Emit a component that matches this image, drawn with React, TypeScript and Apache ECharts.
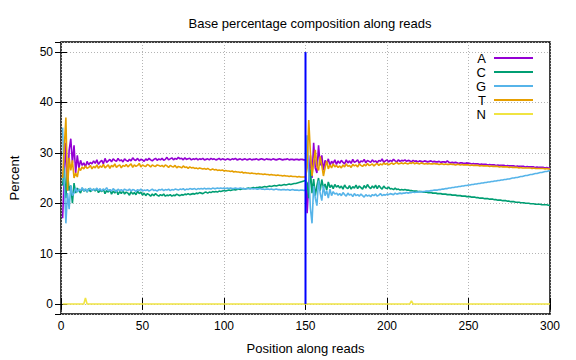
import React, { useEffect, useRef } from "react";
import * as echarts from "echarts";

// ---- Data (read 1 = positions 1..150, read 2 = positions 151..300) ----
const BASES = ["A", "C", "G", "T", "N"];
const COLORS = ["#9400d3", "#009e73", "#56b4e9", "#e69f00", "#f0e442"];
const X_TICKS = [0, 50, 100, 150, 200, 250, 300];
const READ_BOUNDARY = 150;

const A1 = [
  17.0, 25.5, 32.0, 22.5, 30.5, 32.8, 28.0, 31.5, 26.0, 29.5, 27.0, 28.5, 27.5, 28.0, 27.2, 28.3, 27.6, 28.1, 27.8, 28.4,
  27.9, 28.6, 27.7, 28.2, 28.5, 27.8, 28.9, 28.1, 28.4, 28.7, 28.2, 28.8, 28.5, 28.3, 28.9, 28.4, 28.6, 28.2, 28.8, 28.5,
  28.3, 28.7, 28.4, 29.0, 28.6, 28.5, 28.9, 28.4, 28.7, 28.6, 28.3, 28.8, 28.5, 28.9, 28.6, 28.4, 28.7, 28.9, 28.5, 28.8,
  28.6, 28.9, 28.5, 28.7, 29.1, 28.6, 28.8, 29.0, 28.6, 28.9, 28.7, 29.1, 28.8, 28.9, 28.6, 29.0, 28.7, 28.8, 28.9, 28.6,
  28.8, 28.7, 28.9, 28.6, 28.8, 28.7, 28.9, 28.6, 28.7, 28.8, 28.6, 28.9, 28.7, 28.8, 28.6, 28.7, 28.9, 28.6, 28.8, 28.7,
  28.6, 28.8, 28.7, 28.6, 28.8, 28.7, 28.9, 28.6, 28.7, 28.8, 28.6, 28.7, 28.8, 28.6, 28.7, 28.8, 28.6, 28.7, 28.7, 28.8,
  28.6, 28.7, 28.8, 28.7, 28.6, 28.8, 28.7, 28.7, 28.6, 28.8, 28.7, 28.6, 28.7, 28.8, 28.7, 28.6, 28.7, 28.7, 28.8, 28.6,
  28.7, 28.7, 28.6, 28.7, 28.7, 28.6, 28.7, 28.7, 28.6, 28.6,
];
const A2 = [
  18.0, 24.0, 29.5, 25.0, 32.0, 27.0, 26.0, 31.5, 27.5, 29.5, 26.5, 28.5, 27.8, 28.8, 27.5, 28.3, 27.9, 28.6, 27.7, 28.4,
  27.9, 28.5, 28.1, 27.8, 28.6, 28.0, 28.4, 27.9, 28.7, 28.1, 28.3, 28.6, 27.9, 28.4, 28.2, 28.7, 28.0, 28.5, 28.3, 28.1,
  28.6, 28.2, 28.4, 28.0, 28.5, 28.3, 28.8, 28.1, 28.4, 28.6, 28.2, 28.5, 28.3, 28.7, 28.4, 28.2, 28.6, 28.3, 28.5, 28.4,
  28.6, 28.3, 28.5, 28.4, 28.2, 28.5, 28.3, 28.4, 28.2, 28.4, 28.3, 28.2, 28.4, 28.3, 28.2, 28.3, 28.4, 28.2, 28.3, 28.2,
  28.2, 28.3, 28.1, 28.2, 28.2, 28.1, 28.4, 28.1, 28.0, 28.1, 28.0, 28.1, 28.0, 27.9, 28.0, 28.0, 27.9, 27.9, 28.0, 27.9,
  27.9, 27.8, 27.9, 27.8, 27.8, 27.8, 27.7, 27.8, 27.7, 27.7, 27.7, 27.6, 27.7, 27.6, 27.6, 27.6, 27.5, 27.6, 27.5, 27.5,
  27.5, 27.5, 27.4, 27.5, 27.4, 27.4, 27.4, 27.4, 27.3, 27.4, 27.3, 27.3, 27.3, 27.3, 27.2, 27.3, 27.2, 27.2, 27.2, 27.2,
  27.1, 27.2, 27.1, 27.1, 27.1, 27.1, 27.0, 27.1, 27.0, 27.0,
];

const C1 = [
  23.5, 27.0, 21.0, 26.0, 22.5, 23.5, 20.0, 24.0, 22.0, 23.0, 22.5, 22.0, 23.0, 22.4, 22.7, 22.2, 22.9, 22.3, 22.6, 22.8,
  22.4, 22.9, 22.1, 22.6, 22.3, 22.8, 21.9, 22.5, 22.2, 22.7, 21.8, 22.4, 22.0, 22.6, 21.7, 22.3, 21.9, 22.5, 21.8, 22.2,
  22.0, 21.6, 22.3, 21.8, 22.1, 21.7, 22.4, 21.9, 22.2, 21.6, 22.0, 21.5, 21.9, 21.7, 21.4, 21.8, 21.5, 21.9, 21.6, 21.4,
  21.7, 21.5, 21.8, 21.4, 21.6, 21.5, 21.7, 21.4, 21.6, 21.5, 21.8, 21.6, 21.5, 21.7, 21.6, 21.8, 21.7, 21.9, 21.7, 21.8,
  21.9, 21.8, 22.0, 21.9, 22.1, 22.0, 21.9, 22.1, 22.2, 22.0, 22.2, 22.1, 22.3, 22.2, 22.3, 22.2, 22.4, 22.3, 22.4, 22.5,
  22.4, 22.5, 22.6, 22.5, 22.6, 22.7, 22.6, 22.7, 22.8, 22.7, 22.8, 22.9, 22.8, 22.9, 23.0, 22.9, 23.0, 23.1, 23.0, 23.1,
  23.1, 23.2, 23.1, 23.2, 23.3, 23.2, 23.3, 23.4, 23.3, 23.4, 23.5, 23.4, 23.5, 23.6, 23.5, 23.6, 23.7, 23.6, 23.7, 23.8,
  23.7, 23.8, 23.9, 23.9, 24.0, 24.1, 24.2, 24.3, 24.4, 24.5,
];
const C2 = [
  24.0, 21.0, 26.7, 22.0, 24.8, 21.5, 23.5, 25.0, 22.5, 24.7, 23.0, 23.8, 22.6, 24.2, 23.1, 23.6, 22.9, 23.7, 23.2, 23.5,
  23.0, 23.4, 22.8, 23.6, 23.1, 22.9, 23.5, 22.8, 23.3, 23.0, 23.6, 22.9, 23.4, 23.1, 22.8, 23.5, 23.0, 23.7, 23.2, 22.9,
  23.4, 23.0, 23.6, 22.9, 23.5, 23.1, 22.8, 23.4, 23.0, 22.9, 23.2, 22.8, 22.9, 22.7, 23.0, 22.7, 22.8, 22.6, 22.7, 22.6,
  22.7, 22.6, 22.6, 22.5, 22.5, 22.4, 22.4, 22.4, 22.3, 22.3, 22.3, 22.2, 22.2, 22.2, 22.1, 22.1, 22.1, 22.0, 22.0, 22.0,
  21.9, 21.9, 21.9, 21.8, 21.8, 21.8, 21.7, 21.7, 21.7, 21.6, 21.6, 21.6, 21.5, 21.5, 21.5, 21.4, 21.4, 21.4, 21.3, 21.3,
  21.3, 21.2, 21.2, 21.2, 21.1, 21.1, 21.0, 21.0, 21.0, 20.9, 20.9, 20.9, 20.8, 20.8, 20.8, 20.7, 20.7, 20.6, 20.6, 20.6,
  20.5, 20.5, 20.5, 20.4, 20.4, 20.3, 20.3, 20.3, 20.2, 20.2, 20.2, 20.1, 20.1, 20.1, 20.0, 20.0, 20.0, 19.9, 19.9, 19.9,
  19.8, 19.8, 19.8, 19.8, 19.7, 19.7, 19.7, 19.7, 19.6, 19.6,
];

const G1 = [
  35.0, 24.0, 16.0, 22.0, 18.8, 23.5, 21.5, 22.0, 23.0, 22.2, 22.8, 22.5, 23.1, 22.4, 22.9, 22.3, 22.7, 23.0, 22.5, 22.8,
  22.6, 23.0, 22.5, 22.9, 22.4, 22.8, 22.6, 23.1, 22.5, 22.7, 22.4, 22.9, 22.6, 22.3, 22.8, 22.5, 22.7, 22.4, 22.8, 22.6,
  22.5, 22.8, 22.4, 22.7, 22.6, 22.3, 22.7, 22.5, 22.8, 22.4, 22.6, 22.5, 22.7, 22.4, 22.6, 22.8, 22.5, 22.6, 22.4, 22.7,
  22.6, 22.8, 22.5, 22.7, 22.6, 22.8, 22.5, 22.7, 22.6, 22.8, 22.7, 22.6, 22.8, 22.7, 22.9, 22.6, 22.8, 22.7, 22.9, 22.8,
  22.8, 22.9, 22.7, 22.9, 22.8, 22.9, 22.8, 23.0, 22.8, 22.9, 22.9, 22.8, 23.0, 22.9, 22.9, 23.0, 22.9, 23.0, 22.9, 23.0,
  22.9, 23.0, 22.9, 23.0, 22.9, 22.9, 23.0, 22.9, 22.9, 23.0, 22.9, 22.9, 22.8, 22.9, 22.9, 22.8, 22.9, 22.8, 22.9, 22.8,
  22.8, 22.9, 22.8, 22.8, 22.7, 22.8, 22.8, 22.7, 22.8, 22.7, 22.7, 22.8, 22.7, 22.7, 22.6, 22.7, 22.7, 22.6, 22.7, 22.6,
  22.6, 22.7, 22.6, 22.6, 22.6, 22.5, 22.6, 22.6, 22.5, 22.6,
];
const G2 = [
  33.5, 26.0, 19.0, 16.0, 23.4, 21.0, 19.5, 24.5, 22.0, 20.5, 23.5, 21.5, 22.5, 21.0, 22.8, 21.5, 22.3, 21.8, 22.0, 21.6,
  21.9, 21.5, 22.1, 21.7, 21.4, 22.0, 21.6, 21.8, 21.3, 21.9, 21.5, 21.7, 21.4, 21.8, 21.5, 21.2, 21.7, 21.4, 21.6, 21.3,
  21.7, 21.5, 21.8, 21.4, 21.6, 21.9, 21.5, 21.7, 21.6, 21.8, 21.7, 21.9, 21.8, 21.7, 22.0, 21.8, 21.9, 22.0, 21.9, 22.0,
  22.0, 22.1, 22.0, 22.1, 22.1, 22.2, 22.1, 22.2, 22.2, 22.3, 22.2, 22.3, 22.3, 22.4, 22.4, 22.4, 22.5, 22.5, 22.6, 22.6,
  22.6, 22.7, 22.7, 22.8, 22.8, 22.9, 22.9, 23.0, 23.0, 23.1, 23.1, 23.2, 23.2, 23.3, 23.3, 23.4, 23.4, 23.5, 23.5, 23.6,
  23.6, 23.7, 23.7, 23.8, 23.8, 23.9, 23.9, 24.0, 24.0, 24.1, 24.1, 24.2, 24.2, 24.3, 24.3, 24.4, 24.4, 24.5, 24.5, 24.6,
  24.6, 24.7, 24.7, 24.8, 24.8, 24.9, 25.0, 25.0, 25.1, 25.1, 25.2, 25.3, 25.3, 25.4, 25.5, 25.5, 25.6, 25.7, 25.7, 25.8,
  25.9, 25.9, 26.0, 26.1, 26.1, 26.2, 26.3, 26.3, 26.4, 26.5,
];

const T1 = [
  25.0, 31.0, 37.0, 22.5, 29.0, 26.5, 28.5, 25.0, 26.0, 25.2, 27.0, 26.5, 27.2, 26.8, 27.4, 26.9, 27.1, 27.5, 26.8, 27.3,
  27.0, 27.6, 26.9, 27.4, 27.1, 27.7, 27.0, 27.3, 27.6, 26.9, 27.5, 27.2, 27.8, 27.1, 27.4, 27.6, 27.0, 27.5, 27.3, 27.7,
  27.2, 27.5, 27.8, 27.1, 27.6, 27.3, 27.5, 27.9, 27.2, 27.6, 27.4, 27.3, 27.7, 27.5, 27.2, 27.6, 27.4, 27.3, 27.6, 27.5,
  27.3, 27.5, 27.2, 27.6, 27.4, 27.1, 27.5, 27.3, 27.2, 27.5, 27.0, 27.3, 27.2, 27.0, 27.4, 27.1, 27.2, 26.9, 27.2, 27.0,
  27.1, 26.9, 27.0, 26.8, 27.0, 26.9, 26.8, 26.9, 26.7, 26.9, 26.7, 26.6, 26.8, 26.6, 26.7, 26.5, 26.6, 26.5, 26.6, 26.4,
  26.5, 26.4, 26.4, 26.3, 26.4, 26.2, 26.3, 26.2, 26.2, 26.1, 26.2, 26.0, 26.1, 26.0, 26.0, 25.9, 26.0, 25.9, 25.9, 25.8,
  25.9, 25.8, 25.8, 25.7, 25.8, 25.7, 25.7, 25.6, 25.7, 25.6, 25.6, 25.5, 25.6, 25.5, 25.5, 25.4, 25.5, 25.4, 25.4, 25.3,
  25.4, 25.3, 25.3, 25.3, 25.2, 25.3, 25.2, 25.2, 25.2, 25.2,
];
const T2 = [
  27.0, 36.5, 30.0, 25.4, 28.0, 30.6, 27.3, 26.5, 29.3, 27.5, 25.4, 27.0, 28.4, 26.8, 27.6, 27.0, 27.8, 27.2, 27.5, 27.1,
  27.4, 27.0, 27.6, 27.2, 27.8, 27.3, 27.5, 27.1, 27.7, 27.4, 27.6, 27.2, 27.8, 27.5, 27.3, 27.7, 27.4, 27.9, 27.5, 27.6,
  27.8, 27.4, 27.7, 27.9, 27.5, 27.8, 27.6, 28.0, 27.7, 27.9, 27.6, 27.8, 28.0, 27.7, 27.9, 28.1, 27.8, 27.9, 28.0, 27.8,
  28.0, 27.9, 27.8, 28.0, 27.9, 28.1, 27.8, 28.0, 27.9, 27.8, 28.0, 27.9, 27.8, 27.9, 27.8, 27.9, 27.8, 27.8, 27.9, 27.8,
  27.8, 27.7, 27.8, 27.8, 27.7, 27.8, 27.7, 27.7, 27.8, 27.7, 27.7, 27.6, 27.7, 27.7, 27.6, 27.7, 27.6, 27.6, 27.6, 27.6,
  27.5, 27.6, 27.5, 27.5, 27.5, 27.5, 27.4, 27.5, 27.4, 27.4, 27.4, 27.4, 27.3, 27.4, 27.3, 27.3, 27.3, 27.3, 27.2, 27.3,
  27.2, 27.2, 27.2, 27.2, 27.1, 27.2, 27.1, 27.1, 27.1, 27.1, 27.0, 27.1, 27.0, 27.0, 27.0, 27.0, 27.0, 27.0, 26.9, 27.0,
  26.9, 26.9, 26.9, 26.9, 26.9, 26.9, 26.8, 26.9, 26.8, 26.8,
];

const N1 = [
  0, 0, 0, 0, 0, 0, 0, 0, 0, 0, 0, 0, 0, 0, 1.2, 0, 0, 0, 0, 0,
  0, 0, 0, 0, 0, 0, 0, 0, 0, 0, 0, 0, 0, 0, 0, 0, 0, 0, 0, 0,
  0, 0, 0, 0, 0, 0, 0, 0, 0, 0, 0, 0, 0, 0, 0, 0, 0, 0, 0, 0,
  0, 0, 0, 0, 0, 0, 0, 0, 0, 0, 0, 0, 0, 0, 0, 0, 0, 0, 0, 0,
  0, 0, 0, 0, 0, 0, 0, 0, 0, 0, 0, 0, 0, 0, 0, 0, 0, 0, 0, 0,
  0, 0, 0, 0, 0, 0, 0, 0, 0, 0, 0, 0, 0, 0, 0, 0, 0, 0, 0, 0,
  0, 0, 0, 0, 0, 0, 0, 0, 0, 0, 0, 0, 0, 0, 0, 0, 0, 0, 0, 0,
  0, 0, 0, 0, 0, 0, 0, 0, 0, 0,
];
const N2 = [
  0, 0, 0, 0, 0, 0, 0, 0, 0, 0, 0, 0, 0, 0, 0, 0, 0, 0, 0, 0,
  0, 0, 0, 0, 0, 0, 0, 0, 0, 0, 0, 0, 0, 0, 0, 0, 0, 0, 0, 0,
  0, 0, 0, 0, 0, 0, 0, 0, 0, 0, 0, 0, 0, 0, 0, 0, 0, 0, 0, 0,
  0, 0, 0, 0, 0.6, 0, 0, 0, 0, 0, 0, 0, 0, 0, 0, 0, 0, 0, 0, 0,
  0, 0, 0, 0, 0, 0, 0, 0, 0, 0, 0, 0, 0, 0, 0, 0, 0, 0, 0, 0,
  0, 0, 0, 0, 0, 0, 0, 0, 0, 0, 0, 0, 0, 0, 0, 0, 0, 0, 0, 0,
  0, 0, 0, 0, 0, 0, 0, 0, 0, 0, 0, 0, 0, 0, 0, 0, 0, 0, 0, 0,
  0, 0, 0, 0, 0, 0, 0, 0, 0, 0,
];

const SERIES_VALUES = [
  [...A1, ...A2],
  [...C1, ...C2],
  [...G1, ...G2],
  [...T1, ...T2],
  [...N1, ...N2],
];

const FONT = "'Liberation Sans', Arial, Helvetica, sans-serif";

export default function App() {
  const ref = useRef<HTMLDivElement>(null);

  useEffect(() => {
    if (!ref.current) return;
    const chart = echarts.init(ref.current, undefined, { renderer: "svg" });

    const lineSeries = BASES.map((name, k) => ({
      name,
      type: "line",
      xAxisIndex: 0,
      yAxisIndex: 0,
      showSymbol: false,
      symbol: "none",
      silent: true,
      data: SERIES_VALUES[k].map((v, i) => [i + 1, v]),
      lineStyle: { color: COLORS[k], width: 1.6 },
      itemStyle: { color: COLORS[k] },
      z: 3,
    }));

    const tickCommon = {
      show: true,
      inside: true,
      length: 6,
      lineStyle: { color: "#000", width: 1 },
    };

    const option = {
      animation: false,
      backgroundColor: "#fff",
      title: {
        text: "Base percentage composition along reads",
        left: 305,
        top: 12,
        textAlign: "center",
        textStyle: { fontFamily: FONT, fontSize: 13, fontWeight: "normal", color: "#000" },
      },
      legend: {
        data: BASES,
        orient: "vertical",
        right: 38,
        top: 46,
        align: "right",
        icon: "rect",
        itemWidth: 39,
        itemHeight: 2,
        itemGap: 0,
        selectedMode: false,
        textStyle: { fontFamily: FONT, fontSize: 13, color: "#000", lineHeight: 14, padding: [0, 3, 0, 0] },
      },
      grid: {
        left: 60,
        right: 26,
        top: 42,
        bottom: 45,
        show: true,
        borderColor: "#000",
        borderWidth: 1.5,
        backgroundColor: "transparent",
      },
      xAxis: [
        {
          type: "value",
          position: "bottom",
          min: X_TICKS[0],
          max: X_TICKS[X_TICKS.length - 1],
          interval: 50,
          name: "Position along reads",
          nameLocation: "middle",
          nameGap: 28,
          nameTextStyle: { fontFamily: FONT, fontSize: 13, color: "#000" },
          axisLine: { show: false },
          axisTick: tickCommon,
          axisLabel: { fontFamily: FONT, fontSize: 12, color: "#000", margin: 6 },
          splitLine: { show: true, lineStyle: { color: "#b4b4b4", type: [1, 2], width: 1 } },
        },
        {
          type: "value",
          position: "top",
          min: X_TICKS[0],
          max: X_TICKS[X_TICKS.length - 1],
          interval: 50,
          axisLine: { show: false },
          axisTick: tickCommon,
          axisLabel: { show: false },
          splitLine: { show: false },
        },
      ],
      yAxis: [
        {
          type: "value",
          position: "left",
          min: -2,
          max: 52,
          splitNumber: 5,
          name: "Percent",
          nameLocation: "middle",
          nameGap: 40,
          nameTextStyle: { fontFamily: FONT, fontSize: 13, color: "#000" },
          axisLine: { show: false },
          axisTick: tickCommon,
          axisLabel: {
            fontFamily: FONT,
            fontSize: 12,
            color: "#000",
            margin: 8,
            showMinLabel: false,
            showMaxLabel: false,
          },
          splitLine: { show: true, lineStyle: { color: "#b4b4b4", type: [1, 2], width: 1 } },
        },
        {
          type: "value",
          position: "right",
          min: -2,
          max: 52,
          splitNumber: 5,
          axisLine: { show: false },
          axisTick: tickCommon,
          axisLabel: { show: false },
          splitLine: { show: false },
        },
      ],
      series: [
        ...lineSeries,
        {
          name: "boundary",
          type: "line",
          xAxisIndex: 0,
          yAxisIndex: 0,
          showSymbol: false,
          symbol: "none",
          silent: true,
          data: [
            [READ_BOUNDARY, 0],
            [READ_BOUNDARY, 50],
          ],
          lineStyle: { color: "#0000ff", width: 2 },
          itemStyle: { color: "#0000ff" },
          z: 4,
        },
      ],
    };

    chart.setOption(option as any);
    return () => chart.dispose();
  }, []);

  return (
    <div
      ref={ref}
      style={{ position: "fixed", left: 0, top: 0, width: 576, height: 360, background: "#fff" }}
    />
  );
}
